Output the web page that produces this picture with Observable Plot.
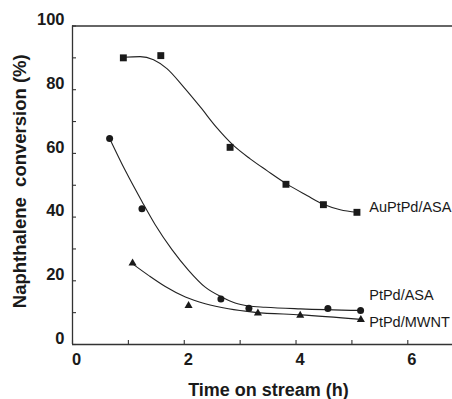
<!DOCTYPE html>
<html>
<head>
<meta charset="utf-8">
<script src="https://cdn.jsdelivr.net/npm/d3@7"></script>
<script src="https://cdn.jsdelivr.net/npm/@observablehq/plot@0.6"></script>
<style>
  html, body { margin: 0; padding: 0; background: #fff; }
  #chart svg { display: block; }
</style>
</head>
<body>
<div id="chart"></div>
<script>
// ---- measured points ----
const auTime = [0.91, 1.58, 2.82, 3.82, 4.49, 5.09];
const auConv = [90.0, 90.7, 61.9, 50.3, 43.9, 41.5];

const ptAsaTime = [0.664, 1.243, 2.656, 3.157, 4.57, 5.155];
const ptAsaConv = [64.7, 42.6, 14.3, 11.4, 11.3, 10.7];

const mwntTime = [1.075, 2.077, 3.318, 4.075, 5.16];
const mwntConv = [25.5, 12.2, 9.8, 9.1, 7.8];

// ---- fitted curves ----
const auFitTime = [0.91, 1.21, 1.45, 1.69, 1.99, 2.29, 2.585, 2.88, 3.18, 3.48, 3.825, 4.195, 4.49, 4.79, 5.09];
const auFitConv = [90.2, 90.4, 89.4, 86.6, 80.8, 74.5, 68.0, 62.5, 58.3, 54.6, 50.5, 46.8, 44.0, 42.3, 41.5];

const ptAsaFitTime = [0.664, 0.945, 1.243, 1.48, 1.78, 2.077, 2.375, 2.67, 2.91, 3.15, 3.45, 4.08, 5.155];
const ptAsaFitConv = [64.7, 54.6, 44.9, 37.6, 29.8, 23.3, 18.0, 14.9, 13.0, 12.1, 11.7, 11.2, 10.7];

const mwntFitTime = [1.075, 1.36, 1.66, 2.02, 2.375, 2.79, 3.27, 4.08, 5.16];
const mwntFitConv = [25.3, 21.7, 18.2, 14.9, 12.8, 11.2, 10.1, 9.3, 7.9];

// ---- series labels ----
const seriesNames = ["AuPtPd/ASA", "PtPd/ASA", "PtPd/MWNT"];
const labelTime = [5.31, 5.31, 5.31];
const labelConv = [43.0, 15.5, 6.9];

// ---- axis ticks ----
const xMinorTicks = [0, 1, 2, 3, 4, 5, 6];
const xTickLabels = [0, 2, 4, 6];
const yMinorTicks = [0, 10, 20, 30, 40, 50, 60, 70, 80, 90, 100];
const yTickLabels = [0, 20, 40, 60, 80, 100];

const xTitle = "Time on stream (h)";
const yTitle = "Naphthalene\u00a0 conversion (%)";

const zip = (t, v) => t.map((d, i) => ({t: d, v: v[i]}));
const ink = "#1a1a1a";
const axisInk = "#333";
const intFmt = d => String(d);

const chart = Plot.plot({
  width: 452,
  height: 399,
  marginLeft: 72,
  marginRight: 0,
  marginTop: 25.5,
  marginBottom: 55,
  style: {fontFamily: "'Liberation Sans', Arial, Helvetica, sans-serif", background: "#fff", color: ink},
  x: {domain: [0, 6.8], label: null},
  y: {domain: [0, 100], label: null},
  marks: [
    // frame lines
    Plot.ruleY([0], {stroke: axisInk, strokeWidth: 1.3}),
    Plot.ruleY([100], {stroke: axisInk, strokeWidth: 1.3}),
    Plot.ruleX([0], {stroke: axisInk, strokeWidth: 1.3}),
    // inward ticks
    Plot.axisX({ticks: xMinorTicks, tickSize: 4, dy: -4, fill: "none", stroke: axisInk, strokeWidth: 1.1, label: null}),
    Plot.axisY({ticks: yMinorTicks, tickSize: 4, dx: 4, fill: "none", stroke: axisInk, strokeWidth: 1.1, label: null}),
    // tick labels
    Plot.axisX({ticks: xTickLabels, tickFormat: intFmt, tickSize: 0, tickPadding: 9, dx: 4, fontSize: 16.5, fontWeight: "bold", fill: ink, label: null}),
    Plot.axisY({ticks: yTickLabels, tickFormat: intFmt, tickSize: 0, tickPadding: 8, dy: -6, fontSize: 16.5, fontWeight: "bold", fill: ink, label: null}),
    // axis titles
    Plot.text([yTitle], {frameAnchor: "left", textAnchor: "middle", lineAnchor: "middle", rotate: -90, dx: -52, dy: -4, fontSize: 18.5, fontWeight: "bold", fill: ink}),
    Plot.text([xTitle], {frameAnchor: "bottom", textAnchor: "middle", lineAnchor: "top", dx: 6, dy: 38.5, fontSize: 18, fontWeight: "bold", fill: ink}),
    // fitted curves
    Plot.line(zip(auFitTime, auFitConv), {x: "t", y: "v", curve: "monotone-x", stroke: "#222", strokeWidth: 1.1}),
    Plot.line(zip(ptAsaFitTime, ptAsaFitConv), {x: "t", y: "v", curve: "monotone-x", stroke: "#222", strokeWidth: 1.1}),
    Plot.line(zip(mwntFitTime, mwntFitConv), {x: "t", y: "v", curve: "monotone-x", stroke: "#222", strokeWidth: 1.1}),
    // measured points
    Plot.dot(zip(auTime, auConv), {x: "t", y: "v", symbol: "square", r: 3.9, fill: ink, stroke: "none"}),
    Plot.dot(zip(ptAsaTime, ptAsaConv), {x: "t", y: "v", symbol: "circle", r: 3.5, fill: ink, stroke: "none"}),
    Plot.dot(zip(mwntTime, mwntConv), {x: "t", y: "v", symbol: "triangle", r: 3, fill: ink, stroke: "none"}),
    // series labels
    Plot.text(seriesNames, {x: (d, i) => labelTime[i], y: (d, i) => labelConv[i], text: d => d, textAnchor: "start", fontSize: 14.5, fill: ink})
  ]
});
document.getElementById("chart").appendChild(chart);
</script>
</body>
</html>
